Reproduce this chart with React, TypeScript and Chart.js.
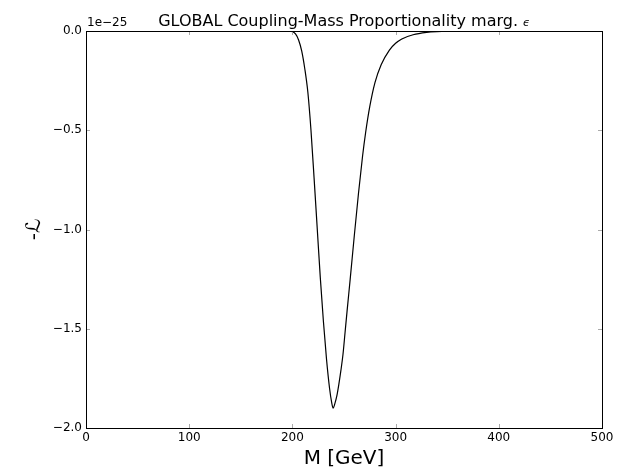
import React, { useEffect, useRef } from "react";
import { Chart, registerables } from "chart.js";

Chart.register(...registerables);

// Mass points (GeV) and -L values (in units of 1e-25)
const MASS = [
  0, 195, 200, 203, 206, 209, 212, 215, 218, 221, 224, 227, 230, 233, 236, 238, 239.5,
  241, 243, 245, 247, 249, 251, 253, 256, 260, 264, 268, 271, 275, 280, 286, 294, 300,
  306, 317, 330, 340, 355, 370, 500,
];
const NEG_L = [
  0, 0, -0.003, -0.015, -0.045, -0.1, -0.19, -0.31, -0.5, -0.74, -0.99, -1.24, -1.46,
  -1.65, -1.8, -1.87, -1.9, -1.88, -1.84, -1.78, -1.71, -1.63, -1.52, -1.41, -1.25,
  -1.03, -0.82, -0.63, -0.51, -0.38, -0.26, -0.17, -0.096, -0.062, -0.04, -0.019, -0.007,
  -0.003, -0.001, 0, 0,
];
const X_TICKS = [0, 100, 200, 300, 400, 500];
const Y_TICKS = [0, -0.5, -1.0, -1.5, -2.0];
const Y_TICK_LABELS = ["0.0", "\u22120.5", "\u22121.0", "\u22121.5", "\u22122.0"];
const OFFSET_TEXT = "1e\u221225";
const TITLE = "GLOBAL Coupling-Mass Proportionality marg. ";
const TITLE_SYMBOL = "\u03f5";
const X_LABEL = "M [GeV]";
const Y_LABEL = "-\u2112";

const FONT = "'DejaVu Sans', sans-serif";

export default function App() {
  const ref = useRef<HTMLCanvasElement | null>(null);

  useEffect(() => {
    const canvas = ref.current;
    if (!canvas) return;

    const decor = {
      id: "decor",
      afterDraw(chart: any) {
        const ctx = chart.ctx;
        const a = chart.chartArea;
        const xs = chart.scales.x;
        const ys = chart.scales.y;
        ctx.save();
        ctx.strokeStyle = "#aaaaaa";
        ctx.lineWidth = 1;
        // ticks (inward, all sides)
        ctx.beginPath();
        for (const t of X_TICKS) {
          const px = Math.round(xs.getPixelForValue(t)) + 0.5;
          ctx.moveTo(px, a.bottom);
          ctx.lineTo(px, a.bottom - 4);
          ctx.moveTo(px, a.top);
          ctx.lineTo(px, a.top + 4);
        }
        for (const t of Y_TICKS) {
          const py = Math.round(ys.getPixelForValue(t)) + 0.5;
          ctx.moveTo(a.left, py);
          ctx.lineTo(a.left + 4, py);
          ctx.moveTo(a.right, py);
          ctx.lineTo(a.right - 4, py);
        }
        ctx.stroke();
        // frame
        ctx.strokeStyle = "#000";
        ctx.strokeRect(
          Math.round(a.left) + 0.5,
          Math.round(a.top) + 0.5,
          Math.round(a.right - a.left),
          Math.round(a.bottom - a.top)
        );
        ctx.fillStyle = "#000";
        // title
        ctx.font = `16px ${FONT}`;
        const w1 = ctx.measureText(TITLE).width;
        ctx.font = `italic 11px ${FONT}`;
        const w2 = ctx.measureText(TITLE_SYMBOL).width;
        const cx = (a.left + a.right) / 2;
        const startX = cx - (w1 + w2) / 2;
        ctx.textAlign = "left";
        ctx.textBaseline = "alphabetic";
        ctx.font = `16px ${FONT}`;
        ctx.fillText(TITLE, startX, 26);
        ctx.font = `italic 11px ${FONT}`;
        ctx.fillText(TITLE_SYMBOL, startX + w1, 26);
        // offset text
        ctx.font = `12px ${FONT}`;
        ctx.fillText(OFFSET_TEXT, a.left + 1, 26);
        // x label
        ctx.font = `20px ${FONT}`;
        ctx.textAlign = "center";
        ctx.textBaseline = "middle";
        ctx.fillText(X_LABEL, cx, 459);
        // y label
        ctx.save();
        ctx.translate(35, (a.top + a.bottom) / 2);
        ctx.rotate(-Math.PI / 2);
        ctx.fillText(Y_LABEL, 0, 0);
        ctx.restore();
        ctx.restore();
      },
    };

    const chart = new Chart(canvas, {
      type: "line",
      data: {
        datasets: [
          {
            data: MASS.map((m, i) => ({ x: m, y: NEG_L[i] })),
            borderColor: "#000",
            borderWidth: 1.2,
            pointRadius: 0,
            cubicInterpolationMode: "monotone",
            fill: false,
          },
        ],
      },
      options: {
        responsive: false,
        animation: false,
        devicePixelRatio: 1,
        layout: { padding: { left: 0, top: 31, right: 15, bottom: 0 } },
        plugins: { legend: { display: false }, tooltip: { enabled: false }, title: { display: false } },
        scales: {
          x: {
            type: "linear",
            min: 0,
            max: 500,
            grid: { display: false, drawTicks: false },
            border: { display: false },
            afterBuildTicks: (s: any) => {
              s.ticks = X_TICKS.map((v) => ({ value: v }));
            },
            afterFit: (s: any) => {
              s.height = 43;
            },
            ticks: {
              font: { family: FONT, size: 12 },
              color: "#000",
              padding: 3,
              maxRotation: 0,
              autoSkip: false,
              callback: (v: any) => String(v),
            },
          },
          y: {
            type: "linear",
            min: -2,
            max: 0,
            grid: { display: false, drawTicks: false },
            border: { display: false },
            afterBuildTicks: (s: any) => {
              s.ticks = Y_TICKS.map((v) => ({ value: v }));
            },
            afterFit: (s: any) => {
              s.width = 86;
            },
            ticks: {
              font: { family: FONT, size: 12 },
              color: "#000",
              padding: 4,
              autoSkip: false,
              callback: (v: any) => {
                const i = Y_TICKS.indexOf(Number(v));
                return i >= 0 ? Y_TICK_LABELS[i] : "";
              },
            },
          },
        },
      },
      plugins: [decor],
    } as any);

    return () => chart.destroy();
  }, []);

  return (
    <div style={{ position: "fixed", left: 0, top: 0, width: 617, height: 471, background: "#fff" }}>
      <canvas ref={ref} width={617} height={471} style={{ width: 617, height: 471, display: "block" }} />
    </div>
  );
}
